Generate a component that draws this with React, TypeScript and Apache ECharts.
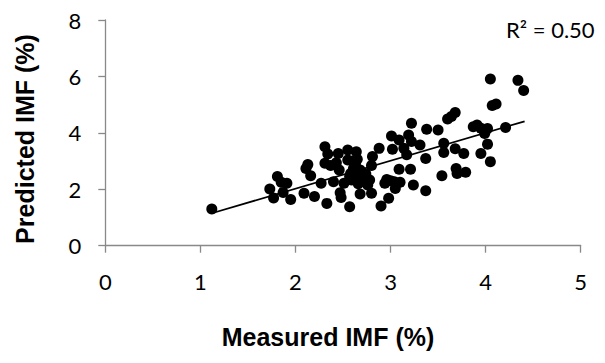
import React, { useEffect, useRef } from "react";
import * as echarts from "echarts";

const measured: number[] = [
  1.12, 1.73, 1.77, 1.81, 1.85, 1.87, 1.91, 1.95,
  2.09, 2.11, 2.13, 2.16, 2.2, 2.27,
  2.31, 2.31, 2.34, 2.33, 2.37, 2.4, 2.43, 2.45, 2.46, 2.47, 2.48, 2.51,
  2.55, 2.55, 2.57, 2.58, 2.59, 2.61, 2.64, 2.65, 2.66, 2.68, 2.68, 2.72, 2.76, 2.78, 2.8, 2.8, 2.81,
  2.62, 2.7, 2.63, 2.74, 2.6, 2.66, 2.57,
  2.88, 2.9, 2.94, 2.96, 2.98, 3.0, 3.01, 3.02, 3.04, 3.05, 3.09, 3.09, 3.1,
  3.14, 3.17, 3.19, 3.21, 3.22, 3.22, 3.24, 3.31, 3.37, 3.37, 3.38,
  3.5, 3.54, 3.56, 3.56, 3.6, 3.64, 3.68, 3.68, 3.69, 3.7, 3.77, 3.79,
  3.87, 3.91, 3.95, 3.95, 3.99, 4.02, 4.02, 4.05, 4.05, 4.07, 4.11, 4.21, 4.34, 4.4,
];
const predicted: number[] = [
  1.3, 2.01, 1.69, 2.45, 2.25, 1.89, 2.21, 1.64,
  1.86, 2.74, 2.88, 2.48, 1.74, 2.21,
  3.51, 2.92, 3.25, 1.5, 2.84, 2.27, 2.94, 3.27, 2.68, 1.88, 1.71, 2.21,
  3.39, 3.04, 1.38, 2.56, 2.33, 2.74, 3.33, 3.06, 2.45, 2.68, 1.83, 2.29, 2.15, 2.33, 2.84, 1.86, 3.16,
  2.6, 2.4, 2.88, 2.55, 3.0, 2.2, 2.45,
  3.45, 1.41, 2.21, 2.35, 1.68, 2.3, 3.89, 3.42, 2.27, 2.03, 3.75, 2.71, 2.25,
  3.45, 3.22, 3.92, 2.71, 4.34, 3.69, 2.15, 3.57, 3.09, 1.95, 4.13,
  4.1, 2.48, 3.63, 3.3, 4.49, 4.58, 4.72, 3.44, 2.74, 2.56, 3.27, 2.6,
  4.22, 4.28, 4.16, 3.27, 3.98, 4.15, 3.6, 5.91, 2.98, 4.97, 5.02, 4.19, 5.86, 5.5,
];
const trendX: number[] = [1.12, 4.41];
const trendY: number[] = [1.15, 4.41];
const xTicks = { min: 0, max: 5, interval: 1 };
const yTicks = { min: 0, max: 8, interval: 2 };
const xTitle = "Measured IMF (%)";
const yTitle = "Predicted IMF (%)";
const r2Label = "R² = 0.50";

export default function App() {
  const ref = useRef<HTMLDivElement>(null);
  useEffect(() => {
    if (!ref.current) return;
    const chart = echarts.init(ref.current, undefined, { renderer: "svg" });
    const axisColor = "#898989";
    const labelFont = "Lato, 'Liberation Sans', sans-serif";
    const titleFont = "'Liberation Sans', Arial, sans-serif";
    chart.setOption({
      animation: false,
      backgroundColor: "#ffffff",
      grid: { left: 105.3, right: 24.3, top: 20, bottom: 117.3, containLabel: false },
      xAxis: {
        type: "value",
        min: xTicks.min,
        max: xTicks.max,
        interval: xTicks.interval,
        axisLine: { show: true, onZero: false, lineStyle: { color: axisColor, width: 1.3 } },
        axisTick: { show: true, inside: false, length: 7, lineStyle: { color: axisColor, width: 1.3 } },
        axisLabel: { color: "#000", fontSize: 22, fontFamily: labelFont, margin: 25 },
        splitLine: { show: false },
      },
      yAxis: {
        type: "value",
        min: yTicks.min,
        max: yTicks.max,
        interval: yTicks.interval,
        axisLine: { show: true, onZero: false, lineStyle: { color: axisColor, width: 1.3 } },
        axisTick: { show: true, inside: false, length: 7, lineStyle: { color: axisColor, width: 1.3 } },
        axisLabel: { color: "#000", fontSize: 22, fontFamily: labelFont, margin: 24 },
        splitLine: { show: false },
      },
      series: [
        {
          type: "line",
          data: trendX.map((x, i) => [x, trendY[i]]),
          symbol: "none",
          lineStyle: { color: "#000", width: 1.8 },
          z: 3,
        },
        {
          type: "scatter",
          data: measured.map((x, i) => [x, predicted[i]]),
          symbol: "circle",
          symbolSize: 11,
          itemStyle: { color: "#000", opacity: 1 },
          z: 4,
        },
      ],
      graphic: [
        {
          type: "text",
          x: 328,
          y: 337,
          style: {
            text: xTitle,
            fontSize: 25,
            fontWeight: "bold",
            fontFamily: titleFont,
            fill: "#000",
            align: "center",
            verticalAlign: "middle",
          },
        },
        {
          type: "text",
          x: 25,
          y: 139,
          rotation: Math.PI / 2,
          style: {
            text: yTitle,
            fontSize: 25,
            fontWeight: "bold",
            fontFamily: titleFont,
            fill: "#000",
            align: "center",
            verticalAlign: "middle",
          },
        },
        {
          type: "text",
          x: 506,
          y: 29,
          style: {
            text: r2Label,
            fontSize: 22,
            fontFamily: labelFont,
            fill: "#000",
            align: "left",
            verticalAlign: "middle",
          },
        },
      ],
    });
    return () => chart.dispose();
  }, []);
  return (
    <div
      ref={ref}
      style={{ position: "fixed", left: 0, top: 0, width: 605, height: 363, background: "#fff" }}
    />
  );
}
